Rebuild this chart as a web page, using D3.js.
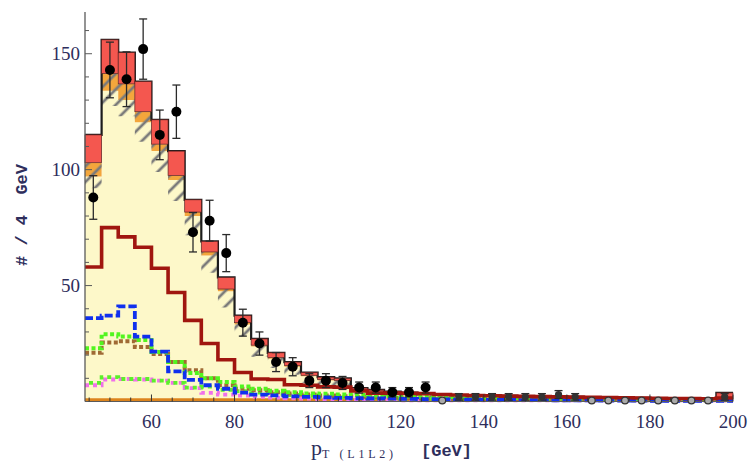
<!DOCTYPE html>
<html>
<head>
<meta charset="utf-8">
<script src="https://cdn.jsdelivr.net/npm/d3@7"></script>
<style>
  html, body { margin: 0; padding: 0; background: #fff; }
  svg { display: block; }
</style>
</head>
<body>
<script>
// bins of 4 GeV, left edges
const bins = [44, 48, 52, 56, 60, 64, 68, 72, 76, 80,
  84, 88, 92, 96, 100, 104, 108, 112, 116, 120,
  124, 128, 132, 136, 140, 144, 148, 152, 156, 160,
  164, 168, 172, 176, 180, 184, 188, 192, 196];
const binWidth = 4;

// stacked backgrounds
const yellow = [97, 134, 130, 120.5, 108, 95.5, 80, 63, 47.5, 33.2,
  23.7, 18.4, 15, 10.9, 9.1, 8.7, 4.9, 4.3, 3.6, 3.2,
  2.9, 2.6, 2.4, 2.2, 2.1, 2.0, 1.9, 1.8, 1.7, 1.6,
  1.5, 1.4, 1.3, 1.2, 1.1, 1.0, 0.9, 0.8, 1.0];
const orange = [6, 7.5, 7, 4.5, 3, 2, 1.7, 1.5, 1, 0.8,
  0.6, 0.6, 0.5, 0.4, 0.4, 0.3, 0.2, 0.2, 0.2, 0.2,
  0.15, 0.1, 0.1, 0.1, 0.1, 0.1, 0.1, 0.1, 0.1, 0.1,
  0.1, 0.1, 0.1, 0.1, 0.1, 0.1, 0.1, 0.1, 0.2];
const red = [12, 14.5, 13.5, 13, 10.5, 10.5, 5.3, 4.6, 5, 3,
  2.7, 2, 1.5, 1.2, 1, 1, 0.7, 0.5, 0.5, 0.4,
  0.35, 0.3, 0.3, 0.3, 0.3, 0.3, 0.3, 0.3, 0.3, 0.3,
  0.3, 0.3, 0.3, 0.3, 0.3, 0.3, 0.3, 0.3, 2.5];
// hatched uncertainty depth below yellow+orange
const hatch = [11, 14, 14, 13, 12, 11, 10, 9, 8, 6,
  5, 4.5, 4, 3.5, 3, 2.6, 2, 1.6, 1.4, 1.3,
  1.2, 1.1, 1, 1, 0.9, 0.9, 0.9, 0.8, 0.8, 0.8,
  0.7, 0.7, 0.7, 0.7, 0.7, 0.6, 0.6, 0.6, 0.6];

// overlaid components
const darkRed = [58, 75, 71, 66.5, 57.5, 47, 35, 25, 18, 12.5,
  9.7, 9.5, 7.2, 7, 6.3, 6.2, 4.5, 3.6, 3.6, 3.5,
  3.4, 3.0, 2.8, 2.6, 2.5, 2.3, 2.2, 2.1, 2.0, 1.9,
  1.8, 1.7, 1.6, 1.5, 1.4, 1.3, 1.3, 1.2, 1.5];
const blue = [36, 37, 41, 28, 21.5, 13, 9.3, 7, 5.5, 3.8,
  3, 2.6, 2.2, 2, 1.8, 1.6, 1.4, 1.3, 1.2, 1.1,
  1, 0.9, 0.8, 0.8, 0.7, 0.7, 0.6, 0.6, 0.5, 0.5,
  0.5, 0.4, 0.4, 0.4, 0.3, 0.3, 0.3, 0.3, 0.3];
const lime = [23, 29, 28, 26.5, 21.3, 17, 12.3, 10, 8.4, 6.5,
  5.5, 4.6, 4, 3.5, 3.3, 3, 2.8, 2.6, 2.4, 2.2,
  2.1, 2.0, 1.9, 1.8, 1.7, 1.6, 1.5, 1.4, 1.3, 1.2,
  1.2, 1.1, 1.1, 1.0, 1.0, 0.9, 0.9, 0.9, 0.9];
const brown = [21, 25.4, 26, 23.5, 20.5, 17, 13.5, 10, 7, 5.5,
  4.8, 4, 3.4, 3, 2.6, 2.3, 2, 1.8, 1.6, 1.4,
  1.3, 1.2, 1.1, 1, 0.9, 0.9, 0.8, 0.8, 0.7, 0.7,
  0.6, 0.6, 0.6, 0.5, 0.5, 0.5, 0.5, 0.5, 0.5];
const pink = [7, 9.5, 9.7, 9.5, 9, 8, 5.8, 3.7, 3, 2.5,
  2, 1.7, 1.4, 1.2, 1, 0.9, 0.8, 0.7, 0.6, 0.5,
  0.5, 0.5, 0.5, 0.5, 0.5, 0.5, 0.5, 0.5, 0.5, 0.5,
  0.5, 0.5, 0.5, 0.5, 0.5, 0.5, 0.5, 0.5, 0.5];
const lime2 = [8, 10.5, 9.7, 9.7, 9, 8, 6, 6.4, 5, 4.5,
  3.8, 3.3, 2.8, 2.4, 2.1, 1.9, 1.7, 1.5, 1.4, 1.3,
  1.2, 1.1, 1.0, 1.0, 0.9, 0.9, 0.9, 0.8, 0.8, 0.8,
  0.8, 0.7, 0.7, 0.7, 0.7, 0.7, 0.7, 0.7, 0.7];
const bottomLine = [0.6, 0.6, 0.6, 0.6, 0.6, 0.6, 0.6, 0.6, 0.6, 0.6,
  0.6, 0.6, 0.6, 0.6, 0.6, 0.6, 0.6, 0.6, 0.6, 0.6,
  0.6, 0.6, 0.6, 0.6, 0.6, 0.6, 0.6, 0.6, 0.6, 0.6,
  0.6, 0.6, 0.6, 0.6, 0.6, 0.6, 0.6, 0.6, 0.6];

// data
const obs = [88, 143, 139, 152, 115, 125, 73, 78, 64, 34,
  25, 17, 15, 9, 9, 8, 6, 6, 4, 4,
  6, 0, 2, 2, 2, 2, 2, 2, 3, 2,
  0, 0, 0, 0, 0, 0, 0, 0, 2];
const obsErr = [9.4, 12, 11.8, 13, 10.7, 11.5, 8.5, 8.8, 8, 5.8,
  5, 4.1, 3.9, 3, 3, 2.8, 2.4, 2.4, 2, 2,
  2.4, 0, 1.4, 1.4, 1.4, 1.4, 1.4, 1.4, 1.7, 1.4,
  0, 0, 0, 0, 0, 0, 0, 0, 1.4];

const xTicks = [60, 80, 100, 120, 140, 160, 180, 200];
const yTicks = [50, 100, 150];

const W = 749, H = 467;
const x = d3.scaleLinear().domain([44, 200]).range([85, 733]);
const y = d3.scaleLinear().domain([0, 168]).range([401.5, 12]);

const svg = d3.select('body').append('svg')
  .attr('width', W).attr('height', H);

const defs = svg.append('defs');
defs.append('pattern')
  .attr('id', 'hatch')
  .attr('patternUnits', 'userSpaceOnUse')
  .attr('width', 11).attr('height', 11)
  .attr('patternTransform', 'rotate(45)')
  .append('line')
  .attr('x1', 2).attr('y1', 0).attr('x2', 2).attr('y2', 11)
  .attr('stroke', '#7a7a7a').attr('stroke-width', 2.8);

// helpers
const stepPts = vals => bins.map((b, i) => [b, vals[i]])
  .concat([[bins[bins.length - 1] + binWidth, vals[vals.length - 1]]]);
const stepLine = d3.line()
  .x(d => x(d[0])).y(d => y(d[1]))
  .curve(d3.curveStepAfter);
const stepArea = d3.area()
  .x(d => x(d[0])).y0(d => y(d[1])).y1(d => y(d[2]))
  .curve(d3.curveStepAfter);
const bandPts = (lo, hi) => bins.map((b, i) => [b, lo[i], hi[i]])
  .concat([[bins[bins.length - 1] + binWidth, lo[lo.length - 1], hi[hi.length - 1]]]);

const yo = yellow.map((v, i) => v + orange[i]);
const total = yo.map((v, i) => v + red[i]);
const zeros = bins.map(() => 0);
const hatchLo = yo.map((v, i) => Math.max(0, v - hatch[i]));

// yellow fill
svg.append('path')
  .attr('d', stepArea(bandPts(zeros, yellow)))
  .attr('fill', '#fdf8c9');

// orange
svg.append('path')
  .attr('d', stepArea(bandPts(yellow, yo)))
  .attr('fill', '#f3a63c');

// hatched band
svg.append('path')
  .attr('d', stepArea(bandPts(hatchLo, yo)))
  .attr('fill', 'url(#hatch)');

// black outline of total
svg.append('path')
  .attr('d', stepLine(stepPts(total)))
  .attr('fill', 'none')
  .attr('stroke', '#1c1c1c').attr('stroke-width', 2.2);

// red boxes
svg.selectAll('rect.red')
  .data(bins)
  .enter().append('rect')
  .attr('class', 'red')
  .attr('x', d => x(d))
  .attr('width', d => x(d + binWidth) - x(d))
  .attr('y', (d, i) => y(total[i]))
  .attr('height', (d, i) => y(yo[i]) - y(total[i]))
  .attr('fill', '#f4574f')
  .attr('stroke', '#5a2020').attr('stroke-width', 0.7);

// component lines
const lines = [
  { vals: bottomLine, color: '#dc841c', width: 3.6, dash: null },
  { vals: pink, color: '#f070ea', width: 3.8, dash: '4,4' },
  { vals: lime2, color: '#5cf02a', width: 3.8, dash: '4,4', offset: 4 },
  { vals: brown, color: '#a06a34', width: 4, dash: '4,2.5' },
  { vals: lime, color: '#52f51e', width: 4, dash: '4,2.5' },
  { vals: blue, color: '#1030ee', width: 3.8, dash: '8,3' },
  { vals: darkRed, color: '#a0160f', width: 3.6, dash: null }
];
lines.forEach(l => {
  svg.append('path')
    .attr('d', stepLine(stepPts(l.vals)))
    .attr('fill', 'none')
    .attr('stroke', l.color)
    .attr('stroke-width', l.width)
    .attr('stroke-dasharray', l.dash)
    .attr('stroke-dashoffset', l.offset || 0);
});

// axes
const axisCol = '#5a5a5a';
svg.append('line')
  .attr('x1', x(44)).attr('x2', x(44))
  .attr('y1', y(0)).attr('y2', y(168))
  .attr('stroke', axisCol).attr('stroke-width', 1.3);
svg.append('line')
  .attr('x1', x(44)).attr('x2', x(200))
  .attr('y1', y(0)).attr('y2', y(0))
  .attr('stroke', axisCol).attr('stroke-width', 1.2);

const yMinor = d3.range(10, 168, 10);
svg.selectAll('line.ytick')
  .data(yMinor)
  .enter().append('line')
  .attr('x1', x(44))
  .attr('x2', d => x(44) + (d % 50 === 0 ? 7 : 4))
  .attr('y1', d => y(d)).attr('y2', d => y(d))
  .attr('stroke', axisCol).attr('stroke-width', 1);

const xMinor = d3.range(45, 201, 5);
svg.selectAll('line.xtick')
  .data(xMinor)
  .enter().append('line')
  .attr('x1', d => x(d)).attr('x2', d => x(d))
  .attr('y1', y(0))
  .attr('y2', d => y(0) - (d % 20 === 0 ? 7 : 4))
  .attr('stroke', '#333').attr('stroke-width', 1);

const labCol = '#2e2e5c';
svg.selectAll('text.xl')
  .data(xTicks)
  .enter().append('text')
  .attr('x', d => x(d)).attr('y', 428)
  .attr('text-anchor', 'middle')
  .attr('font-family', 'Liberation Serif, serif')
  .attr('font-size', 19)
  .attr('fill', labCol)
  .text(d => d);

svg.selectAll('text.yl')
  .data(yTicks)
  .enter().append('text')
  .attr('x', 80).attr('y', d => y(d) + 6.5)
  .attr('text-anchor', 'end')
  .attr('font-family', 'Liberation Serif, serif')
  .attr('font-size', 19)
  .attr('fill', labCol)
  .text(d => d);

// data points
const pts = svg.append('g');
bins.forEach((b, i) => {
  const cx = x(b + binWidth / 2);
  const small = obs[i] <= 3;
  if (obsErr[i] > 0) {
    pts.append('line')
      .attr('x1', cx).attr('x2', cx)
      .attr('y1', y(obs[i] - obsErr[i])).attr('y2', y(obs[i] + obsErr[i]))
      .attr('stroke', '#2a2a2a').attr('stroke-width', 1.3);
    [obs[i] - obsErr[i], obs[i] + obsErr[i]].forEach(v => {
      pts.append('line')
        .attr('x1', cx - 4).attr('x2', cx + 4)
        .attr('y1', y(v)).attr('y2', y(v))
        .attr('stroke', '#2a2a2a').attr('stroke-width', 1.3);
    });
    pts.append('circle')
      .attr('cx', cx).attr('cy', y(obs[i]))
      .attr('r', small ? 3.6 : 5).attr('fill', small ? '#333' : '#000');
  } else {
    pts.append('circle')
      .attr('cx', cx).attr('cy', y(obs[i]) - 1)
      .attr('r', 3.4).attr('fill', '#aaa')
      .attr('stroke', '#333').attr('stroke-width', 1.2);
  }
});

// axis titles
svg.append('text')
  .attr('transform', 'translate(27,215) rotate(-90)')
  .attr('text-anchor', 'middle')
  .attr('font-family', 'Liberation Mono, monospace')
  .attr('font-weight', 'bold')
  .attr('font-size', 17)
  .attr('fill', labCol)
  .attr('xml:space', 'preserve')
  .text('# / 4  GeV');

svg.append('text')
  .attr('x', 311).attr('y', 455)
  .attr('font-family', 'Liberation Serif, serif')
  .attr('font-size', 22)
  .attr('fill', labCol)
  .text('p');
svg.append('text')
  .attr('x', 322).attr('y', 458)
  .attr('font-family', 'Liberation Serif, serif')
  .attr('font-size', 12)
  .attr('fill', labCol)
  .attr('textLength', 71)
  .attr('lengthAdjust', 'spacing')
  .text('T (L1L2)');
svg.append('text')
  .attr('x', 421).attr('y', 456)
  .attr('font-family', 'Liberation Mono, monospace')
  .attr('font-weight', 'bold')
  .attr('font-size', 17)
  .attr('fill', labCol)
  .text('[GeV]');
</script>
</body>
</html>
